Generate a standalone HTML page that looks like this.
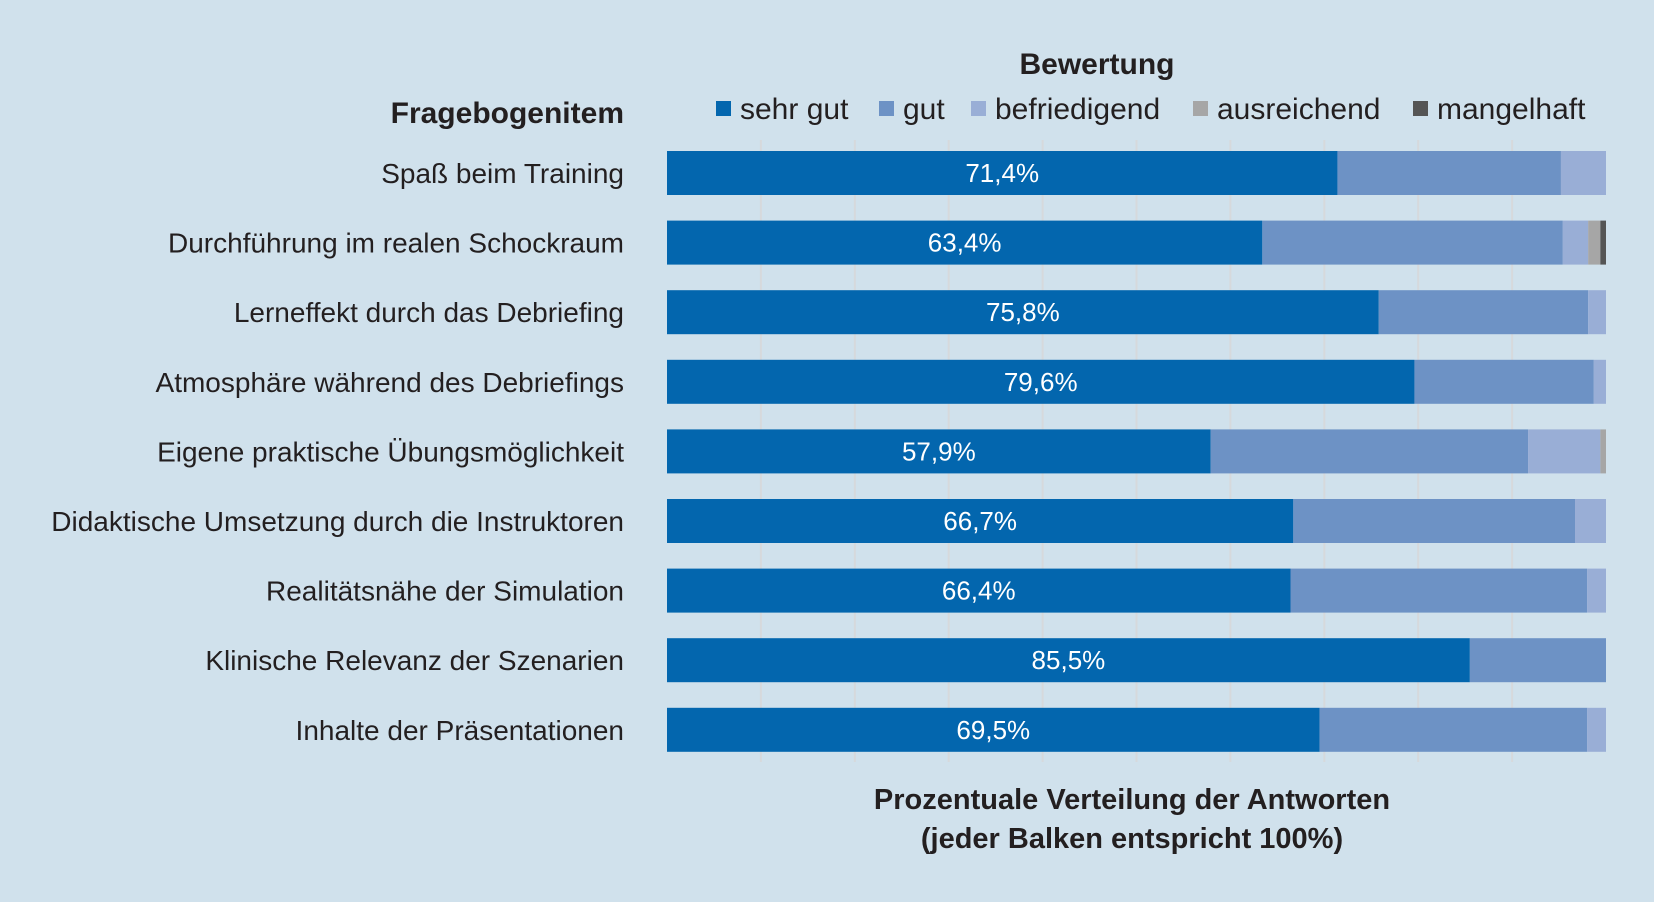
<!DOCTYPE html>
<html><head><meta charset="utf-8"><style>
html,body{margin:0;padding:0;background:#d0e1ec;}
svg{display:block;font-family:"Liberation Sans",sans-serif;}
</style></head><body>
<svg width="1654" height="902" id="chart">
<rect x="0" y="0" width="1654" height="902" fill="#d0e1ec"/>
<text x="1097" y="74" font-size="30" font-weight="bold" text-anchor="middle" fill="#231f20">Bewertung</text>
<text x="624" y="123" font-size="30" font-weight="bold" text-anchor="end" fill="#231f20">Fragebogenitem</text>
<g id="grid"></g>
<g id="bars"></g>
<g id="legend"></g>
<text x="1132" y="809" font-size="29" font-weight="bold" text-anchor="middle" fill="#231f20">Prozentuale Verteilung der Antworten</text>
<text x="1132" y="848" font-size="29" font-weight="bold" text-anchor="middle" fill="#231f20">(jeder Balken entspricht 100%)</text>
</svg>
<script>
const categories = ["Spaß beim Training","Durchführung im realen Schockraum","Lerneffekt durch das Debriefing","Atmosphäre während des Debriefings","Eigene praktische Übungsmöglichkeit","Didaktische Umsetzung durch die Instruktoren","Realitätsnähe der Simulation","Klinische Relevanz der Szenarien","Inhalte der Präsentationen"];
const seriesNames = ["sehr gut","gut","befriedigend","ausreichend","mangelhaft"];
const sehrGut = [71.4,63.4,75.8,79.6,57.9,66.7,66.4,85.5,69.5];
const gut = [23.8,32.0,22.3,19.1,33.8,30.0,31.6,14.5,28.5];
const befriedigend = [4.8,2.7,1.9,1.3,7.7,3.3,2.0,0,2.0];
const ausreichend = [0,1.3,0,0,0.6,0,0,0,0];
const mangelhaft = [0,0.6,0,0,0,0,0,0,0];
const gridTicks = [10,20,30,40,50,60,70,80,90];

const colors = ["#0366ae","#6d92c5","#99aed6","#a6a6a6","#555555"];
const NS = "http://www.w3.org/2000/svg";
const x0 = 667, x1 = 1606, top0 = 151, pitch = 69.6, bh = 44;
const xs = v => x0 + (x1 - x0) * v / 100;
const ys = i => top0 + i * pitch;
function mk(tag, attrs, parent){const e=document.createElementNS(NS,tag);for(const k in attrs)e.setAttribute(k,attrs[k]);parent.appendChild(e);return e;}
const grid = document.getElementById('grid');
gridTicks.forEach(t=>{
  const l = mk('line',{x1:xs(t),x2:xs(t),y1:140,y2:762,stroke:"#d6d9dc","stroke-width":2},grid);
  
  
});
const bars = document.getElementById('bars');
const series = [sehrGut,gut,befriedigend,ausreichend,mangelhaft];
categories.forEach((c,i)=>{
  const y = ys(i);
  const lab = mk('text',{x:624,y:y+bh/2+10,"font-size":28,"text-anchor":"end",fill:"#231f20"},bars);
  lab.textContent = c;
  
  
  let acc = 0;
  series.forEach((s,k)=>{
    const v = s[i];
    if(v>0){
      const r = mk('rect',{x:xs(acc),y:y,width:xs(acc+v)-xs(acc),height:bh,fill:colors[k]},bars);
      
      
    }
    acc += v;
  });
  const t = mk('text',{x:(xs(0)+xs(sehrGut[i]))/2,y:y+bh/2+9,"font-size":26,"text-anchor":"middle",fill:"#ffffff"},bars);
  t.textContent = sehrGut[i].toFixed(1).replace('.',',')+'%';
  
  
});
const legend = document.getElementById('legend');
const lx = [716,879,971,1193,1413];
seriesNames.forEach((n,k)=>{
  const r = mk('rect',{x:lx[k],y:101,width:15,height:15,fill:colors[k]},legend);
  
  
  const t = mk('text',{x:lx[k]+24,y:119,"font-size":30,fill:"#231f20"},legend);
  t.textContent = n;
  
  
});
</script>
</body></html>
